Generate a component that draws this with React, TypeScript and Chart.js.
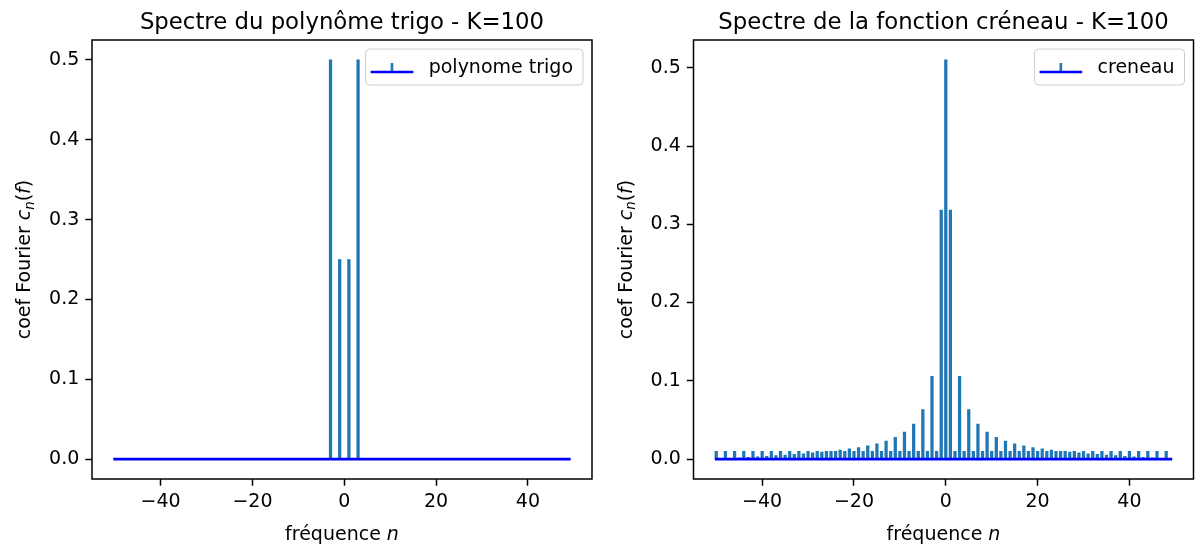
import React, { useEffect, useRef } from 'react';
import { Chart, registerables } from 'chart.js';

Chart.register(...registerables);

// ---------------- data ----------------
const freqs = [
  -50, -49, -48, -47, -46, -45, -44, -43, -42, -41,
  -40, -39, -38, -37, -36, -35, -34, -33, -32, -31,
  -30, -29, -28, -27, -26, -25, -24, -23, -22, -21,
  -20, -19, -18, -17, -16, -15, -14, -13, -12, -11,
  -10, -9, -8, -7, -6, -5, -4, -3, -2, -1,
  0, 1, 2, 3, 4, 5, 6, 7, 8, 9,
  10, 11, 12, 13, 14, 15, 16, 17, 18, 19,
  20, 21, 22, 23, 24, 25, 26, 27, 28, 29,
  30, 31, 32, 33, 34, 35, 36, 37, 38, 39,
  40, 41, 42, 43, 44, 45, 46, 47, 48, 49,
];

const polyCoefs = [
  0, 0, 0, 0, 0, 0, 0, 0, 0, 0,
  0, 0, 0, 0, 0, 0, 0, 0, 0, 0,
  0, 0, 0, 0, 0, 0, 0, 0, 0, 0,
  0, 0, 0, 0, 0, 0, 0, 0, 0, 0,
  0, 0, 0, 0, 0, 0, 0, 0.5, 0, 0.25,
  0, 0.25, 0, 0.5, 0, 0, 0, 0, 0, 0,
  0, 0, 0, 0, 0, 0, 0, 0, 0, 0,
  0, 0, 0, 0, 0, 0, 0, 0, 0, 0,
  0, 0, 0, 0, 0, 0, 0, 0, 0, 0,
  0, 0, 0, 0, 0, 0, 0, 0, 0, 0,
];

const creneauCoefs = [
  0.01, 0.0003, 0.01, 0.0009, 0.01, 0.0016, 0.01, 0.0022, 0.01, 0.0029,
  0.01, 0.0036, 0.01, 0.0043, 0.01, 0.0051, 0.01, 0.0059, 0.01, 0.0068,
  0.01, 0.0078, 0.01, 0.0088, 0.01, 0.0100, 0.01, 0.0113, 0.01, 0.0129,
  0.01, 0.0148, 0.01, 0.0169, 0.01, 0.0196, 0.01, 0.0230, 0.01, 0.0277,
  0.01, 0.0344, 0.01, 0.0447, 0.01, 0.0631, 0.01, 0.1058, 0.01, 0.3182,
  0.51, 0.3182, 0.01, 0.1058, 0.01, 0.0631, 0.01, 0.0447, 0.01, 0.0344,
  0.01, 0.0277, 0.01, 0.0230, 0.01, 0.0196, 0.01, 0.0169, 0.01, 0.0148,
  0.01, 0.0129, 0.01, 0.0113, 0.01, 0.0100, 0.01, 0.0088, 0.01, 0.0078,
  0.01, 0.0068, 0.01, 0.0059, 0.01, 0.0051, 0.01, 0.0043, 0.01, 0.0036,
  0.01, 0.0029, 0.01, 0.0022, 0.01, 0.0016, 0.01, 0.0009, 0.01, 0.0003,
];

const xTicks = [-40, -20, 0, 20, 40];
const yTicks = [0, 0.1, 0.2, 0.3, 0.4, 0.5];
const xLimits = [-54.95, 53.95];
const polyYLimits = [-0.025, 0.525];
const creneauYLimits = [-0.0255, 0.5355];

const titles = ['Spectre du polynôme trigo - K=100', 'Spectre de la fonction créneau - K=100'];
const legendLabels = ['polynome trigo', 'creneau'];

// ---------------- style ----------------
const FONT = "'DejaVu Sans', sans-serif";
const FS = 19;
const TITLE_FS = 22.8;
const STEM_COLOR = '#1f77b4';
const BASE_COLOR = '#0000ff';

type Seg = { t: string; it?: boolean; size?: number; dy?: number };

function drawSegs(ctx: CanvasRenderingContext2D, segs: Seg[], x: number, y: number, center: boolean) {
  const fontFor = (s: Seg) => `${s.it ? 'italic ' : ''}${s.size ?? FS}px ${FONT}`;
  let total = 0;
  for (const s of segs) {
    ctx.font = fontFor(s);
    total += ctx.measureText(s.t).width;
  }
  let cx = center ? x - total / 2 : x;
  ctx.textAlign = 'left';
  ctx.textBaseline = 'alphabetic';
  for (const s of segs) {
    ctx.font = fontFor(s);
    ctx.fillText(s.t, cx, y + (s.dy ?? 0));
    cx += ctx.measureText(s.t).width;
  }
}

function makeDecor(title: string, legendLabel: string) {
  return {
    id: 'decor',
    afterDraw(chart: any) {
      const { ctx, chartArea: a } = chart;
      ctx.save();
      // spines
      ctx.strokeStyle = '#000';
      ctx.lineWidth = 1.5;
      ctx.strokeRect(a.left, a.top, a.right - a.left, a.bottom - a.top);

      const cx = (a.left + a.right) / 2;
      ctx.fillStyle = '#000';
      // title
      ctx.font = `${TITLE_FS}px ${FONT}`;
      ctx.textAlign = 'center';
      ctx.textBaseline = 'alphabetic';
      ctx.fillText(title, cx, a.top - 11.5);

      // x label
      drawSegs(ctx, [{ t: 'fréquence ' }, { t: 'n', it: true }], cx, a.bottom + 61, true);

      // y label
      ctx.save();
      ctx.translate(a.left - 62, (a.top + a.bottom) / 2);
      ctx.rotate(-Math.PI / 2);
      drawSegs(
        ctx,
        [
          { t: 'coef Fourier ' },
          { t: 'c', it: true },
          { t: 'n', it: true, size: FS * 0.7, dy: 3.5 },
          { t: '(' },
          { t: 'f', it: true },
          { t: ')' },
        ],
        0,
        0,
        true
      );
      ctx.restore();

      // legend
      ctx.font = `${FS}px ${FONT}`;
      const tw = ctx.measureText(legendLabel).width;
      const bw = 63 + tw + 10;
      const bh = 36;
      const bx = a.right - 9 - bw;
      const by = a.top + 9;
      ctx.beginPath();
      ctx.roundRect(bx, by, bw, bh, 4);
      ctx.fillStyle = 'rgba(255,255,255,0.8)';
      ctx.fill();
      ctx.strokeStyle = '#cccccc';
      ctx.lineWidth = 1;
      ctx.stroke();
      const hx0 = bx + 5;
      const hx1 = bx + 47.6;
      const hy = by + 23;
      ctx.beginPath();
      ctx.strokeStyle = STEM_COLOR;
      ctx.lineWidth = 2.6;
      ctx.moveTo((hx0 + hx1) / 2, by + 14);
      ctx.lineTo((hx0 + hx1) / 2, hy);
      ctx.stroke();
      ctx.beginPath();
      ctx.strokeStyle = BASE_COLOR;
      ctx.lineWidth = 2.7;
      ctx.moveTo(hx0, hy);
      ctx.lineTo(hx1, hy);
      ctx.stroke();
      ctx.fillStyle = '#000';
      ctx.textAlign = 'left';
      ctx.textBaseline = 'alphabetic';
      ctx.fillText(legendLabel, bx + 63, by + 24);
      ctx.restore();
    },
  };
}

type PanelProps = {
  left: number;
  width: number;
  yAxisW: number;
  padRight: number;
  values: number[];
  yLimits: number[];
  title: string;
  legendLabel: string;
};

function Panel({ left, width, yAxisW, padRight, values, yLimits, title, legendLabel }: PanelProps) {
  const ref = useRef<HTMLCanvasElement>(null);
  useEffect(() => {
    const tickFont = { family: FONT, size: FS };
    const gridOpts = {
      display: true,
      offset: false,
      drawOnChartArea: false,
      drawTicks: true,
      tickLength: 6.7,
      tickWidth: 1.5,
      tickColor: '#000',
    };
    const chart = new Chart(ref.current as HTMLCanvasElement, {
      type: 'bar',
      data: {
        datasets: [
          {
            type: 'bar',
            data: freqs.map((n, i) => ({ x: n, y: values[i] })),
            backgroundColor: STEM_COLOR,
            borderWidth: 0,
            barThickness: 2.6,
            order: 1,
          } as any,
          {
            type: 'line',
            data: [
              { x: freqs[0], y: 0 },
              { x: freqs[freqs.length - 1], y: 0 },
            ],
            borderColor: BASE_COLOR,
            borderWidth: 2.7,
            pointRadius: 0,
            borderCapStyle: 'square',
            order: 0,
          } as any,
        ],
      },
      options: {
        responsive: false,
        animation: false,
        devicePixelRatio: 1,
        events: [],
        layout: { padding: { left: 0, top: 40, right: padRight, bottom: 0 } },
        plugins: { legend: { display: false }, title: { display: false }, tooltip: { enabled: false } },
        scales: {
          x: {
            type: 'linear',
            min: xLimits[0],
            max: xLimits[1],
            offset: false,
            afterBuildTicks: (s: any) => {
              s.ticks = xTicks.map((v) => ({ value: v }));
            },
            afterFit: (s: any) => {
              s.height = 68;
            },
            ticks: {
              font: tickFont,
              color: '#000',
              padding: 5,
              maxRotation: 0,
              autoSkip: false,
              callback: (v: any) => (Number(v) < 0 ? '\u2212' + Math.abs(Number(v)) : String(v)),
            },
            grid: gridOpts,
            border: { display: false },
          },
          y: {
            type: 'linear',
            min: yLimits[0],
            max: yLimits[1],
            afterBuildTicks: (s: any) => {
              s.ticks = yTicks.map((v) => ({ value: v }));
            },
            afterFit: (s: any) => {
              s.width = yAxisW;
            },
            ticks: {
              font: tickFont,
              color: '#000',
              padding: 6,
              autoSkip: false,
              callback: (v: any) => Number(v).toFixed(1),
            },
            grid: gridOpts,
            border: { display: false },
          },
        },
      } as any,
      plugins: [makeDecor(title, legendLabel)],
    });
    return () => chart.destroy();
  }, []);
  return (
    <canvas
      ref={ref}
      width={width}
      height={547}
      style={{ position: 'absolute', left, top: 0, width, height: 547 }}
    />
  );
}

export default function App() {
  return (
    <div style={{ position: 'absolute', left: 0, top: 0, width: 1201, height: 547, background: '#fff', overflow: 'hidden' }}>
      <Panel
        left={0}
        width={600}
        yAxisW={92}
        padRight={8}
        values={polyCoefs}
        yLimits={polyYLimits}
        title={titles[0]}
        legendLabel={legendLabels[0]}
      />
      <Panel
        left={600}
        width={601}
        yAxisW={93.5}
        padRight={7.5}
        values={creneauCoefs}
        yLimits={creneauYLimits}
        title={titles[1]}
        legendLabel={legendLabels[1]}
      />
    </div>
  );
}
